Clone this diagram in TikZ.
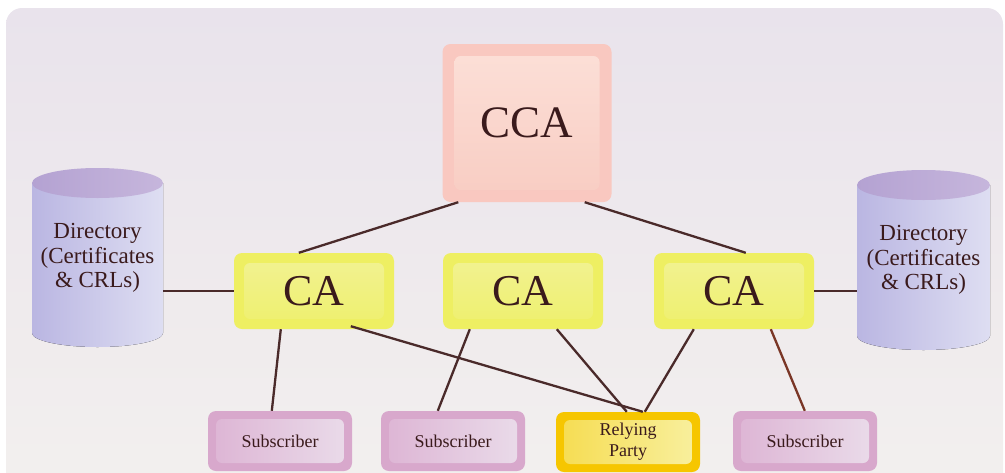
\documentclass[tikz,border=0pt]{standalone}
\usepackage{fontspec}
\setmainfont{Liberation Serif}
\usetikzlibrary{calc}
\definecolor{bgtop}{HTML}{E9E3EC}
\definecolor{bgbot}{HTML}{F3F0EE}
\definecolor{txt}{HTML}{3A1A1C}
\definecolor{ln}{HTML}{4A2A2A}
\definecolor{lnred}{HTML}{7A3626}
\definecolor{ccaout}{HTML}{F9C8C0}
\definecolor{ccainT}{HTML}{FCE0D8}
\definecolor{ccainB}{HTML}{F8CCC2}
\definecolor{caout}{HTML}{EEEF62}
\definecolor{cainT}{HTML}{F2F294}
\definecolor{cainB}{HTML}{EEF06C}
\definecolor{subout}{HTML}{D8A8CC}
\definecolor{subinL}{HTML}{DDB4D4}
\definecolor{subinR}{HTML}{EADCEA}
\definecolor{rpout}{HTML}{F6C600}
\definecolor{rpinL}{HTML}{F6DC50}
\definecolor{rpinR}{HTML}{F8F0A0}
\definecolor{cylL}{HTML}{BAB6E2}
\definecolor{cylR}{HTML}{DEDEF2}
\definecolor{cyltopL}{HTML}{B4A2D2}
\definecolor{cyltopR}{HTML}{C6B6DC}
\tikzset{
  boxbase/.style={rounded corners=8pt, inner sep=0pt, text=txt, align=center},
  innerbox/.style n args={2}{path picture={
      \shade[#1, rounded corners=6pt]
        ([shift={(#2,-#2)}]path picture bounding box.north west) rectangle
        ([shift={(-#2,#2)}]path picture bounding box.south east);}},
  ccabox/.style={boxbase, fill=ccaout, minimum width=169pt, minimum height=158pt,
      font=\fontsize{45}{50}\selectfont, innerbox={top color=ccainT, bottom color=ccainB}{12pt}},
  cabox/.style={boxbase, fill=caout, minimum width=160pt, minimum height=76pt,
      font=\fontsize{44}{48}\selectfont, innerbox={top color=cainT, bottom color=cainB}{10pt}},
  subbox/.style={boxbase, fill=subout, minimum width=144pt, minimum height=60pt,
      font=\fontsize{18}{21}\selectfont, innerbox={left color=subinL, right color=subinR}{8pt}},
  rpbox/.style={boxbase, fill=rpout, minimum width=144pt, minimum height=60pt,
      font=\fontsize{18}{21}\selectfont, innerbox={left color=rpinL, right color=rpinR}{8pt}},
  dirtext/.style={text=txt, align=center, inner sep=0pt, minimum width=131pt,
      font=\fontsize{23}{24.5}\selectfont},
  link/.style={draw=ln, line width=2.3pt},
}
\begin{document}
\begin{tikzpicture}[x=1pt,y=-1pt]
\useasboundingbox (0,0) rectangle (1005,472);
% background panel
\shade[top color=bgtop, bottom color=bgbot, rounded corners=16pt] (6,8) rectangle (1003,500);

% cylinders
\fill[left color=cylL, right color=cylR] (32,183) -- (32,333)
   arc[start angle=180, end angle=360, x radius=65.5pt, y radius=14pt] -- (163,183) -- cycle;
\shade[left color=cyltopL, right color=cyltopR] (97.5,183) ellipse [x radius=65.5pt, y radius=15pt];
\fill[left color=cylL, right color=cylR] (857,185) -- (857,336)
   arc[start angle=180, end angle=360, x radius=66.5pt, y radius=14pt] -- (990,185) -- cycle;
\shade[left color=cyltopL, right color=cyltopR] (923.5,185) ellipse [x radius=66.5pt, y radius=15pt];

\node[dirtext] (dirL) at (97.5,258) {Directory\\(Certificates\\\& CRLs)};
\node[dirtext] (dirR) at (923.5,260) {Directory\\(Certificates\\\& CRLs)};

% boxes
\node[ccabox] (cca) at (527,123) {CCA};
\node[cabox] (ca1) at (314,291) {CA};
\node[cabox] (ca2) at (523,291) {CA};
\node[cabox] (ca3) at (734,291) {CA};
\node[subbox] (sub1) at (280,441) {Subscriber};
\node[subbox] (sub2) at (453,441) {Subscriber};
\node[rpbox] (rp) at (628,442) {Relying\\Party};
\node[subbox] (sub4) at (805,441) {Subscriber};

% connectors
\draw[link] ([xshift=16pt]cca.south west) -- ([xshift=65pt]ca1.north west);
\draw[link] ([xshift=-27pt]cca.south east) -- ([xshift=92pt]ca3.north west);
\draw[link] (dirL.east |- ca1.west) -- (ca1.west);
\draw[link] (ca3.east) -- (ca3.east -| 857,0);
\draw[link] ([xshift=47pt]ca1.south west) -- ([xshift=64pt]sub1.north west);
\draw[link] ([xshift=117pt,yshift=3pt]ca1.south west) -- ([xshift=87pt]rp.north west);
\draw[link] ([xshift=27pt]ca2.south west) -- ([xshift=57pt]sub2.north west);
\draw[link] ([xshift=114pt]ca2.south west) -- ([xshift=71pt]rp.north west);
\draw[link] ([xshift=40pt]ca3.south west) -- ([xshift=89pt]rp.north west);
\draw[link, draw=lnred] ([xshift=117pt]ca3.south west) -- ([xshift=72pt]sub4.north west);
\end{tikzpicture}
\end{document}
